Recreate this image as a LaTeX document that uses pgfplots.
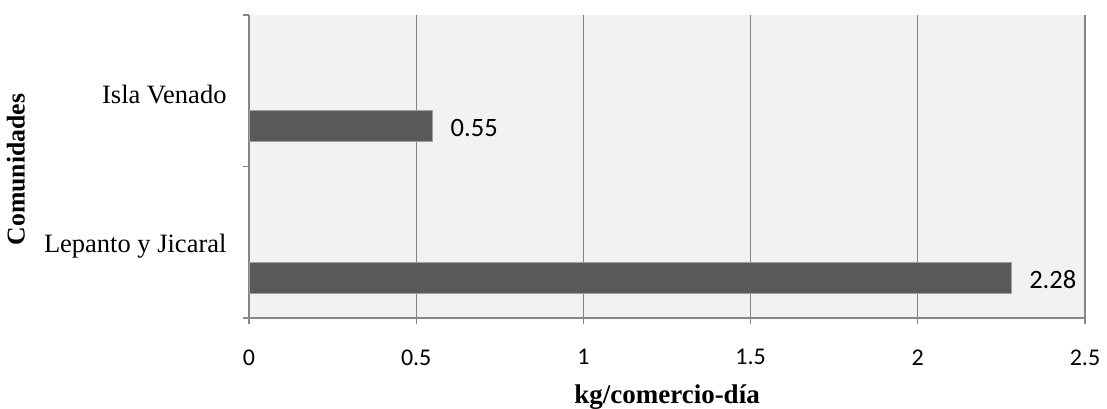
\documentclass[border=0pt]{standalone}
\usepackage{pgfplots}
\pgfplotsset{compat=1.18}
\usepackage{fontspec}
\setmainfont{Liberation Serif}
\newfontfamily\calibri{Carlito}
\definecolor{bg}{HTML}{F2F2F2}
\definecolor{barc}{HTML}{595959}
\definecolor{gridc}{HTML}{868686}
\definecolor{edgec}{HTML}{A0A0A0}
\begin{document}
\begin{tikzpicture}[x=1bp,y=1bp]
\useasboundingbox (0,0) rectangle (1107,408);
\begin{axis}[
  at={(249bp,90bp)}, anchor=south west,
  scale only axis, width=836bp, height=303bp,
  xmin=0, xmax=2.5, ymin=-0.5, ymax=1.5,
  xtick={0,0.5,1,1.5,2,2.5},
  ytick={-0.5,0.5,1.5}, yticklabels={},
  extra y ticks={0,1},
  extra y tick labels={Lepanto y Jicaral, Isla Venado},
  extra y tick style={major tick length=0pt, yticklabel style={font=\fontsize{26.5bp}{30bp}\selectfont, xshift=-19bp, yshift=-4bp}},
  axis background/.style={fill=bg},
  axis x line*=bottom, axis y line*=left,
  axis line style={gridc, line width=1.2bp},
  tick style={gridc, line width=1.2bp},
  major tick length=6bp, tick align=outside,
  xmajorgrids, major grid style={gridc, line width=1.2bp},
  /pgf/number format/assume math mode=true,
  xticklabel style={font=\calibri\fontsize{24bp}{28bp}\selectfont, yshift=-22bp},
  xlabel={\textbf{kg/comercio-día}},
  ylabel={\textbf{Comunidades}},
  xlabel style={font=\fontsize{27bp}{30bp}\selectfont, at={(axis description cs:0.5,-0.26)}, anchor=center},
  ylabel style={font=\fontsize{25.7bp}{30bp}\selectfont, at={(axis description cs:-0.279,0.49)}, anchor=center},
  xbar, bar width=0.205, bar shift=-0.233,
  point meta=x,
  nodes near coords={\pgfmathprintnumber[fixed,precision=2,assume math mode=true]{\pgfplotspointmeta}},
  nodes near coords style={font=\calibri\fontsize{26.5bp}{30bp}\selectfont, anchor=west, xshift=14bp, yshift=-2bp},
]
\addplot[fill=barc, draw=edgec, line width=1bp] coordinates {(2.28,0) (0.55,1)};
\end{axis}
\end{tikzpicture}
\end{document}
